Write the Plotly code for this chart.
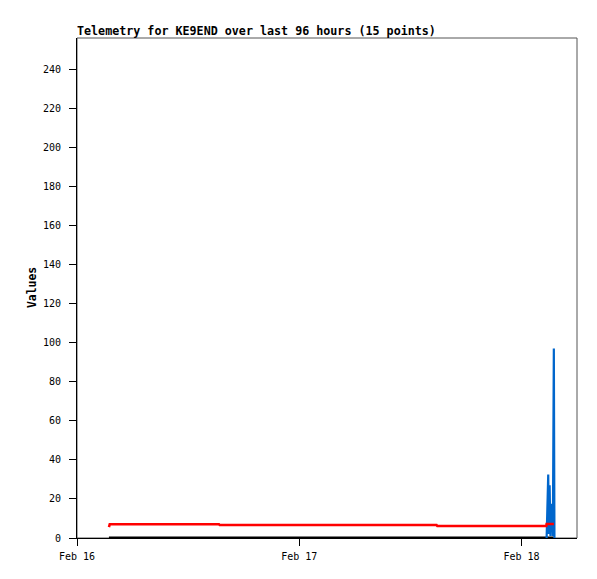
import plotly.graph_objects as go

# red / black channels (packet times)
times = [
    "2024-02-16 03:27", "2024-02-16 03:32", "2024-02-16 15:20", "2024-02-16 15:25",
    "2024-02-17 14:50", "2024-02-17 14:55", "2024-02-18 02:41", "2024-02-18 02:43",
    "2024-02-18 03:30",
]
red_vals = [5.6, 7.0, 7.0, 6.6, 6.6, 6.1, 6.1, 7.2, 7.2]
black_vals = [0, 0, 0, 0, 0, 0, 0, 0, 0]

# blue channel (burst near the end)
blue_times = [
    "2024-02-18 02:43:10", "2024-02-18 02:46:30", "2024-02-18 02:53:36",
    "2024-02-18 02:57:30", "2024-02-18 03:02:40", "2024-02-18 03:07:50",
    "2024-02-18 03:13:00", "2024-02-18 03:19:30", "2024-02-18 03:23:25",
    "2024-02-18 03:29:55", "2024-02-18 03:33:50",
]
blue_vals = [0, 17, 32.5, 2, 27, 1, 17, 17, 1, 97, 0]

title_text = "Telemetry for KE9END over last 96 hours (15 points)"
y_label = "Values"
x_ticks = ["2024-02-16", "2024-02-17", "2024-02-18"]
x_tick_text = ["Feb 16", "Feb 17", "Feb 18"]
x_range = ["2024-02-16 00:00", "2024-02-18 06:00"]
y_range = [0, 256]

FONT = "DejaVu Sans Mono"

fig = go.Figure()
fig.add_trace(go.Scatter(x=times, y=black_vals, mode="lines",
                         line=dict(color="#000000", width=3), showlegend=False))
fig.add_trace(go.Scatter(x=blue_times, y=blue_vals, mode="lines",
                         line=dict(color="#0066cc", width=2.2), showlegend=False))
fig.add_trace(go.Scatter(x=times, y=red_vals, mode="lines",
                         line=dict(color="#ff0000", width=2.5), showlegend=False))

# gray frame (top/right)
fig.add_shape(type="rect", xref="paper", yref="paper", x0=0, y0=0, x1=1, y1=1,
              line=dict(color="#555555", width=1), layer="below")

fig.update_layout(
    width=597, height=579,
    margin=dict(l=69, r=28, t=30, b=49),
    paper_bgcolor="white", plot_bgcolor="white",
    font=dict(family=FONT, size=10, color="#000000"),
    showlegend=False,
    annotations=[
        dict(text="<b>" + title_text + "</b>", xref="paper", yref="paper",
             x=0, y=1, xanchor="left", yanchor="bottom", yshift=-2, xshift=-2,
             showarrow=False, font=dict(family=FONT, size=11.7, color="#000000")),
        dict(text="<b>" + y_label + "</b>", xref="paper", yref="paper",
             x=0, y=0.5, xanchor="center", yanchor="middle", xshift=-45,
             textangle=-90, showarrow=False,
             font=dict(family=FONT, size=11.4, color="#000000")),
    ],
)
fig.update_xaxes(
    type="date", range=x_range, tickvals=x_ticks, ticktext=x_tick_text,
    showgrid=False, zeroline=False, showline=True, linecolor="#000000", linewidth=1,
    ticks="outside", ticklen=7, tickcolor="#000000", tickwidth=1,
    tickfont=dict(family=FONT, size=10), ticklabelstandoff=2,
)
fig.update_yaxes(
    range=y_range, tick0=0, dtick=20,
    showgrid=False, zeroline=False, showline=True, linecolor="#000000", linewidth=1,
    ticks="outside", ticklen=7, tickcolor="#000000", tickwidth=1,
    tickfont=dict(family=FONT, size=10), ticklabelstandoff=6,
)

fig.write_html("out.html")
